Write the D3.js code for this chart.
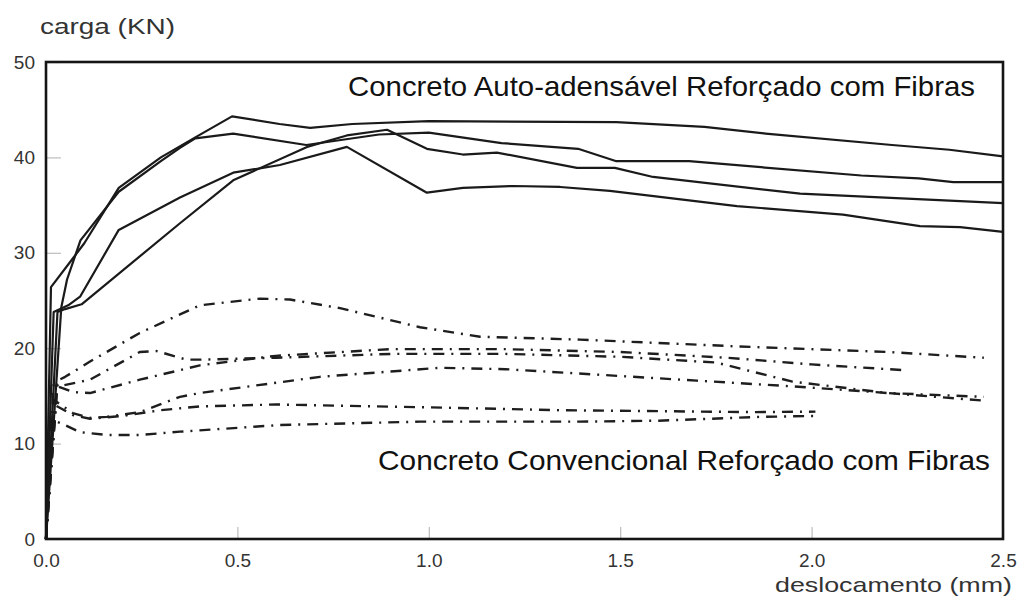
<!DOCTYPE html>
<html>
<head>
<meta charset="utf-8">
<script src="https://cdn.jsdelivr.net/npm/d3@7"></script>
<style>
  html, body { margin: 0; padding: 0; background: #fff; }
  svg { display: block; font-family: "Liberation Sans", Arial, Helvetica, sans-serif; }
</style>
</head>
<body>
<svg id="chart" width="1018" height="613"></svg>
<script>
// Ensaio de flexão: carga (kN) x deslocamento (mm)
// Concreto auto-adensável reforçado com fibras (linhas contínuas)
const autoAdensavel1 = [[0,0],[0.013,26.4],[0.07,29.4],[0.1,31.0],[0.19,36.8],[0.3,40.0],[0.39,42.1],[0.486,44.3],[0.61,43.5],[0.69,43.1],[0.8,43.5],[1.0,43.8],[1.49,43.7],[1.72,43.2],[1.88,42.5],[2.21,41.3],[2.36,40.8],[2.5,40.1]];
const autoAdensavel2 = [[0,0],[0.04,24.3],[0.055,27.2],[0.09,31.3],[0.19,36.4],[0.3,39.6],[0.35,41.0],[0.39,42.0],[0.489,42.5],[0.68,41.3],[0.87,42.4],[1.0,42.6],[1.19,41.5],[1.39,40.9],[1.49,39.6],[1.68,39.6],[2.13,38.1],[2.28,37.8],[2.37,37.4],[2.5,37.4]];
const autoAdensavel3 = [[0,0],[0.03,23.8],[0.05,24.1],[0.093,24.6],[0.35,33.1],[0.489,37.6],[0.682,41.1],[0.786,42.3],[0.891,42.9],[0.995,40.9],[1.089,40.3],[1.178,40.5],[1.387,38.9],[1.486,38.9],[1.586,37.95],[1.97,36.2],[2.5,35.2]];
const autoAdensavel4 = [[0,0],[0.02,23.8],[0.058,24.5],[0.089,25.4],[0.19,32.4],[0.35,35.8],[0.489,38.4],[0.611,39.2],[0.786,41.1],[0.995,36.3],[1.089,36.8],[1.22,37.0],[1.343,36.9],[1.473,36.5],[1.805,34.9],[2.082,34.0],[2.283,32.8],[2.388,32.7],[2.5,32.2]];

// Concreto convencional reforçado com fibras (traço-ponto)
const convencional1 = [[0,0],[0.03,16.6],[0.05,17.0],[0.115,18.6],[0.245,21.6],[0.402,24.5],[0.559,25.2],[0.637,25.1],[0.768,24.2],[0.977,22.2],[1.134,21.2],[1.395,20.9],[1.8,20.2],[2.2,19.6],[2.45,19.0]];
const convencional2 = [[0,0],[0.02,16.3],[0.031,16.0],[0.071,15.4],[0.115,15.3],[0.245,16.7],[0.402,18.2],[0.6,19.2],[0.9,19.9],[1.2,19.9],[1.5,19.6],[1.78,19.0],[2.0,18.3],[2.24,17.7]];
const convencional3 = [[0,0],[0.03,16.2],[0.045,16.1],[0.115,16.7],[0.245,19.6],[0.289,19.7],[0.367,18.8],[0.402,18.8],[0.6,19.0],[0.9,19.4],[1.2,19.4],[1.5,19.1],[1.75,18.5],[1.95,16.5],[2.2,15.3],[2.45,14.5]];
const convencional4 = [[0,0],[0.02,14.6],[0.045,13.9],[0.07,13.2],[0.115,12.7],[0.159,12.8],[0.245,13.3],[0.35,14.9],[0.402,15.3],[0.716,17.0],[1.03,17.95],[1.2,17.8],[1.37,17.4],[1.7,16.6],[1.95,16.0],[2.2,15.3],[2.45,14.9]];
const convencional5 = [[0,0],[0.025,14.0],[0.07,13.0],[0.115,12.6],[0.2,12.9],[0.3,13.5],[0.402,13.9],[0.6,14.1],[1.0,13.8],[1.343,13.5],[1.6,13.4],[1.85,13.3],[2.01,13.35]];
const convencional6 = [[0,0],[0.015,12.5],[0.041,12.1],[0.089,11.2],[0.159,10.9],[0.245,10.9],[0.35,11.25],[0.611,11.95],[0.977,12.3],[1.395,12.3],[1.6,12.4],[1.865,12.8],[2.01,12.9]];

const xTicks = [0, 0.5, 1.0, 1.5, 2.0, 2.5];
const yTicks = [0, 10, 20, 30, 40, 50];

const solidSeries = [autoAdensavel1, autoAdensavel2, autoAdensavel3, autoAdensavel4];
const dashSeries = [convencional1, convencional2, convencional3, convencional4, convencional5, convencional6];

const svg = d3.select("#chart");
const plotLeft = 46, plotRight = 1003, plotTop = 62, plotBottom = 539;

const x = d3.scaleLinear().domain([0, 2.5]).range([plotLeft, plotRight]);
const y = d3.scaleLinear().domain([0, 50]).range([plotBottom, plotTop]);

// inward ticks, light grey
const yAxis = svg.append("g")
  .attr("transform", `translate(${plotLeft},0)`)
  .call(d3.axisLeft(y).tickValues(yTicks).tickFormat(d3.format("d")).tickSizeInner(-15).tickSizeOuter(0).tickPadding(11));
const xAxis = svg.append("g")
  .attr("transform", `translate(0,${plotBottom})`)
  .call(d3.axisBottom(x).tickValues(xTicks).tickFormat(d3.format(".1f")).tickSizeInner(-12).tickSizeOuter(0).tickPadding(15));

[yAxis, xAxis].forEach(g => {
  g.select(".domain").remove();
  g.selectAll(".tick line").attr("stroke", "#bdbdbd").attr("stroke-width", 1.2);
  g.selectAll(".tick text")
    .attr("fill", "#333")
    .style("font-size", "19px")
    .style("font-family", "'Liberation Sans', Arial, sans-serif");
});

const line = d3.line().x(d => x(d[0])).y(d => y(d[1])).curve(d3.curveLinear);

svg.append("g").selectAll("path").data(dashSeries).join("path")
  .attr("d", line)
  .attr("fill", "none")
  .attr("stroke", "#1e1e1e")
  .attr("stroke-width", 2.4)
  .attr("stroke-dasharray", "11,7,2,7")
  .attr("stroke-linejoin", "round");

svg.append("g").selectAll("path").data(solidSeries).join("path")
  .attr("d", line)
  .attr("fill", "none")
  .attr("stroke", "#1a1a1a")
  .attr("stroke-width", 2.2)
  .attr("stroke-linejoin", "round");

// plot frame
svg.append("rect")
  .attr("x", plotLeft).attr("y", plotTop)
  .attr("width", plotRight - plotLeft).attr("height", plotBottom - plotTop)
  .attr("fill", "none").attr("stroke", "#151515").attr("stroke-width", 2.6);

// axis titles
svg.append("text").attr("x", 40).attr("y", 34)
  .attr("fill", "#333").style("font-size", "22px")
  .attr("textLength", 135).attr("lengthAdjust", "spacingAndGlyphs")
  .text("carga (KN)");
svg.append("text").attr("x", 775).attr("y", 592)
  .attr("fill", "#333").style("font-size", "21px")
  .attr("textLength", 237).attr("lengthAdjust", "spacingAndGlyphs")
  .text("deslocamento (mm)");

// group labels
svg.append("text").attr("x", 348).attr("y", 96)
  .attr("fill", "#111").style("font-size", "28px")
  .attr("textLength", 627).attr("lengthAdjust", "spacingAndGlyphs")
  .text("Concreto Auto-adensável Reforçado com Fibras");
svg.append("text").attr("x", 378).attr("y", 470)
  .attr("fill", "#111").style("font-size", "28px")
  .attr("textLength", 612).attr("lengthAdjust", "spacingAndGlyphs")
  .text("Concreto Convencional Reforçado com Fibras");
</script>
</body>
</html>
